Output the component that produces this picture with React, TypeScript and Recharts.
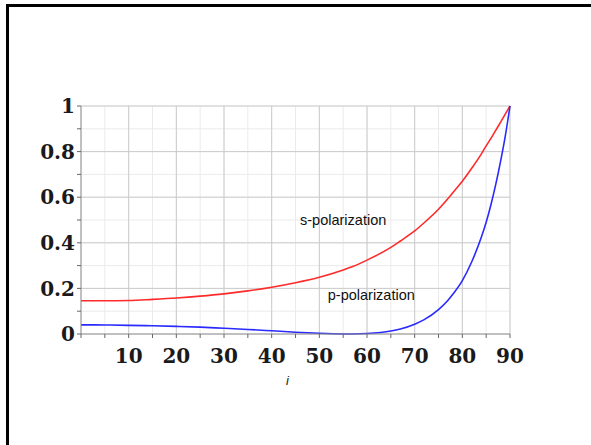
import React from 'react';
import { LineChart, Line, XAxis, YAxis, CartesianGrid, ReferenceLine, ReferenceDot, Label } from 'recharts';

const angles = [0, 5, 10, 15, 20, 25, 30, 35, 40, 45, 50, 55, 57, 60, 65, 67, 70, 72, 75, 77, 78, 80, 82, 84, 85, 86, 87, 88, 89, 90];
const sPol = [0.146, 0.146, 0.147, 0.152, 0.158, 0.166, 0.176, 0.189, 0.205, 0.225, 0.249, 0.281, 0.296, 0.324, 0.38, 0.408, 0.452, 0.488, 0.547, 0.594, 0.62, 0.67, 0.728, 0.79, 0.825, 0.858, 0.893, 0.928, 0.964, 1.0];
const pPol = [0.04, 0.0395, 0.038, 0.036, 0.0335, 0.03, 0.025, 0.02, 0.014, 0.008, 0.0033, 0.0003, 0.0, 0.002, 0.013, 0.022, 0.043, 0.063, 0.107, 0.148, 0.174, 0.234, 0.318, 0.425, 0.49, 0.567, 0.655, 0.755, 0.867, 1.0];

const xTicks = [0, 5, 10, 15, 20, 25, 30, 35, 40, 45, 50, 55, 60, 65, 70, 75, 80, 85, 90];
const xMajor = [10, 20, 30, 40, 50, 60, 70, 80, 90];
const yTicks = [0, 0.1, 0.2, 0.3, 0.4, 0.5, 0.6, 0.7, 0.8, 0.9, 1];
const yMajor = [0.2, 0.4, 0.6, 0.8, 1];
const yLabels: Record<string, string> = { '0': '0', '0.2': '0.2', '0.4': '0.4', '0.6': '0.6', '0.8': '0.8', '1': '1' };

const sLabel = { angle: 55, value: 0.499, text: 's-polarization' };
const pLabel = { angle: 60.9, value: 0.171, text: 'p-polarization' };

const data = angles.map((a, i) => ({ angle: a, s: sPol[i], p: pPol[i] }));

const tickFont = { fontFamily: '"DejaVu Serif", serif', fontWeight: 700, fontSize: 20, fill: '#1a1a1a' };
const noteStyle = { fontFamily: 'Arial, "Liberation Sans", sans-serif', fontSize: 14.5, fill: '#111' };

export default function App() {
  return (
    <div style={{ position: 'absolute', left: 0, top: 0, width: 591, height: 445, background: '#fff' }}>
      <div style={{ position: 'absolute', left: 6, top: 4, width: 585, height: 441, borderTop: '3px solid #000', borderLeft: '3px solid #000', boxSizing: 'border-box' }} />
      <div style={{ position: 'absolute', left: 0, top: 0 }}>
        <LineChart width={591} height={445} data={data} margin={{ top: 106, right: 81, bottom: 81, left: 31 }}>
          <CartesianGrid stroke="#ebebeb" strokeWidth={1} />
          {xMajor.map((x) => (
            <ReferenceLine key={'vx' + x} x={x} stroke="#cccccc" strokeWidth={1} />
          ))}
          {yMajor.map((y) => (
            <ReferenceLine key={'hy' + y} y={y} stroke="#cccccc" strokeWidth={1} />
          ))}
          <XAxis
            dataKey="angle"
            type="number"
            domain={[0, 90]}
            ticks={xTicks}
            interval={0}
            height={30}
            stroke="#8a8a8a"
            tickSize={4}
            tickMargin={11}
            tickLine={{ stroke: '#666' }}
            tick={tickFont}
            tickFormatter={(v: number) => (v % 10 === 0 && v !== 0 ? String(v) : '')}
          >
            <Label value="i" position="bottom" offset={12} dx={-8} style={{ fontFamily: 'Arial, "Liberation Sans", sans-serif', fontStyle: 'italic', fontSize: 13, fill: '#222' }} />
          </XAxis>
          <YAxis
            type="number"
            domain={[0, 1]}
            ticks={yTicks}
            interval={0}
            width={50}
            stroke="#8a8a8a"
            tickSize={4}
            tickLine={{ stroke: '#666' }}
            tick={tickFont}
            tickFormatter={(v: number) => yLabels[String(Math.round(v * 10) / 10)] ?? ''}
          />
          <Line type="monotone" dataKey="s" stroke="#ff2a2a" strokeWidth={1.6} dot={false} isAnimationActive={false} />
          <Line type="monotone" dataKey="p" stroke="#2a2aff" strokeWidth={1.6} dot={false} isAnimationActive={false} />
          <ReferenceDot x={sLabel.angle} y={sLabel.value} r={0} stroke="none" fill="none">
            <Label value={sLabel.text} position="center" style={noteStyle} />
          </ReferenceDot>
          <ReferenceDot x={pLabel.angle} y={pLabel.value} r={0} stroke="none" fill="none">
            <Label value={pLabel.text} position="center" style={noteStyle} />
          </ReferenceDot>
        </LineChart>
      </div>
    </div>
  );
}
